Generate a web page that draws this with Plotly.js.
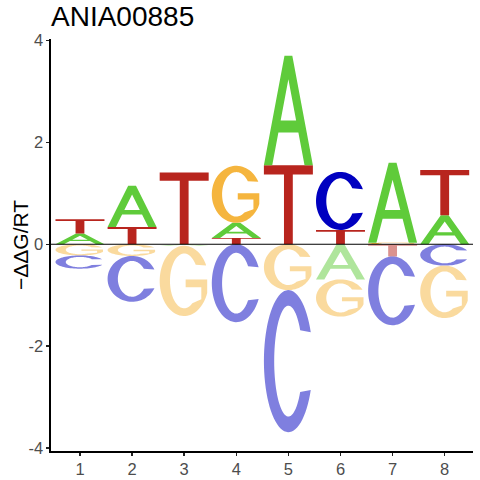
<!DOCTYPE html>
<html>
<head>
<meta charset="utf-8">
<script src="https://cdn.plot.ly/plotly-3.0.1.min.js"></script>
<style>html,body{margin:0;padding:0;background:#fff;}#chart{width:480px;height:480px;}</style>
</head>
<body>
<div id="chart"></div>
<script>
// ---- data ----
const positions = [1, 2, 3, 4, 5, 6, 7, 8];
const xTickLabels = ['1', '2', '3', '4', '5', '6', '7', '8'];
const letters = ['A', 'C', 'G', 'T'];
// signed -ΔΔG/RT contribution of each base at each position
const valuesA = [0.21, 0.81, -0.03, 0.30, 2.15, -0.69, 1.57, 0.57];
const valuesC = [-0.26, -0.90, 0.00, -1.53, -2.79, 1.14, -1.35, -0.42];
const valuesG = [-0.22, -0.23, -1.38, 1.12, -0.90, -0.73, 0.03, -1.03];
const valuesT = [0.28, 0.34, 1.41, 0.12, 1.55, 0.28, -0.24, 0.89];
const yTickVals = [-4, -2, 0, 2, 4];
const yTickText = ['-4', '-2', '0', '2', '4'];
const chartTitle = 'ANIA00885';
const yTitle = '\u2212\u0394\u0394G/RT';

// ---- styling ----
const letterColors = { A: [95, 203, 58], C: [0, 0, 192], G: [245, 181, 62], T: [184, 37, 30] };
const letterWidth = 0.94;
const FONT = 'Liberation Sans, Arial, Helvetica, sans-serif';

// ---- glyph outlines in a unit box (u: 0..1 left->right, v: 0..1 bottom->top) ----
function arc(rx, ry, a0, a1, n) {
  const pts = [];
  for (let i = 0; i <= n; i++) {
    const a = (a0 + (a1 - a0) * i / n) * Math.PI / 180;
    pts.push([0.5 + rx * Math.cos(a), 0.5 + ry * Math.sin(a)]);
  }
  return pts;
}
const RXO = 0.5, RYO = 0.5, RXI = 0.29, RYI = 0.39;
const glyphs = {
  T: [[[0, 1], [1, 1], [1, 0.883], [0.59, 0.883], [0.59, 0], [0.41, 0], [0.41, 0.883], [0, 0.883]]],
  A: [
    [[0, 0], [0.42, 1], [0.58, 1], [1, 0], [0.83, 0], [0.704, 0.30], [0.296, 0.30], [0.17, 0]],
    [[0.342, 0.41], [0.5, 0.786], [0.658, 0.41]]
  ],
  C: [arc(RXO, RYO, 24, 336, 70).concat(arc(RXI, RYI, 326, 34, 70))],
  G: [arc(RXO, RYO, 26, 340, 70)
        .concat([[0.97, 0.52], [0.53, 0.52], [0.53, 0.41], [0.85, 0.41], [0.85, 0.24]])
        .concat(arc(RXI, RYI, 305, 36, 70))]
};

function glyphPath(letter, xc, y0, h) {
  let d = '';
  glyphs[letter].forEach(ring => {
    ring.forEach((p, i) => {
      const x = xc - letterWidth / 2 + p[0] * letterWidth;
      const y = y0 + p[1] * h;
      d += (i === 0 ? 'M' : 'L') + x.toFixed(5) + ',' + y.toFixed(5);
    });
    d += 'Z';
  });
  return d;
}

const valueTable = { A: valuesA, C: valuesC, G: valuesG, T: valuesT };
const shapes = [];
positions.forEach((pos, i) => {
  const items = letters.map(l => ({ l, v: valueTable[l][i] })).filter(o => Math.abs(o.v) > 1e-6);
  const pos_ = items.filter(o => o.v > 0).sort((a, b) => a.v - b.v);
  const neg_ = items.filter(o => o.v < 0).sort((a, b) => b.v - a.v);
  let base = 0;
  pos_.forEach(o => {
    const c = letterColors[o.l];
    shapes.push({ type: 'path', xref: 'x', yref: 'y', layer: 'above', fillrule: 'evenodd',
      path: glyphPath(o.l, pos, base, o.v), fillcolor: `rgb(${c[0]},${c[1]},${c[2]})`, line: { width: 0 } });
    base += o.v;
  });
  base = 0;
  neg_.forEach(o => {
    const c = letterColors[o.l];
    shapes.push({ type: 'path', xref: 'x', yref: 'y', layer: 'above', fillrule: 'evenodd',
      path: glyphPath(o.l, pos, base + o.v, -o.v), fillcolor: `rgba(${c[0]},${c[1]},${c[2]},0.5)`, line: { width: 0 } });
    base += o.v;
  });
});
shapes.push({ type: 'line', xref: 'paper', x0: 0, x1: 1, yref: 'y', y0: 0, y1: 0, layer: 'above',
  line: { color: '#000', width: 1.1 } });

const axisCommon = {
  showline: true, linecolor: '#000', linewidth: 1.6, mirror: false,
  ticks: 'outside', ticklen: 3, tickwidth: 1.4, tickcolor: '#222',
  showgrid: false, zeroline: false, fixedrange: true,
  tickfont: { family: FONT, size: 16.5, color: '#4D4D4D' }
};

const layout = {
  width: 480, height: 480,
  margin: { l: 51, r: 7, t: 39, b: 29 },
  paper_bgcolor: '#fff', plot_bgcolor: '#fff',
  showlegend: false,
  title: { text: chartTitle, x: 0, xref: 'paper', xanchor: 'left', y: 0.966, yref: 'container', yanchor: 'middle',
    font: { family: FONT, size: 28, color: '#000' } },
  xaxis: Object.assign({}, axisCommon, { range: [0.444, 8.543], tickmode: 'array', tickvals: positions, ticktext: xTickLabels }),
  yaxis: Object.assign({}, axisCommon, { range: [-4.06, 4.03], tickmode: 'array', tickvals: yTickVals, ticktext: yTickText }),
  annotations: [{ text: yTitle, textangle: -90, xref: 'paper', yref: 'paper', x: -0.0735, y: 0.5,
    xanchor: 'center', yanchor: 'middle', showarrow: false, font: { family: FONT, size: 21, color: '#000' } }],
  shapes: shapes
};

Plotly.newPlot('chart', [{ type: 'scatter', x: [], y: [], hoverinfo: 'skip', showlegend: false }], layout,
  { staticPlot: true, displayModeBar: false });
</script>
</body>
</html>
